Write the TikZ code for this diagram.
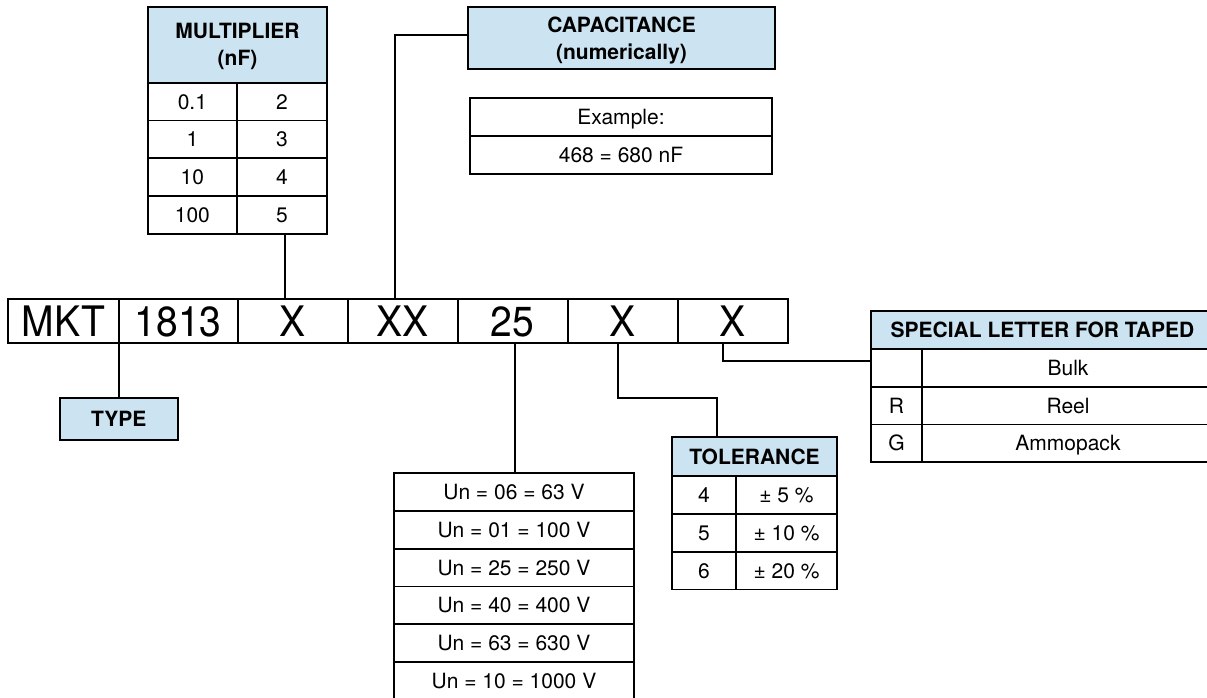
\documentclass[tikz,border=0pt]{standalone}
\usepackage{fontspec}
\setmainfont{TeX Gyre Heros}
\newfontfamily\codefont[FakeStretch=0.93]{TeX Gyre Heros}
\usetikzlibrary{positioning}
\definecolor{headblue}{RGB}{204,228,241}

\tikzset{
  cell/.style={draw, line width=1.8pt, outer sep=0pt, inner sep=0pt,
    minimum height=37.8pt, font=\fontsize{21}{26}\selectfont,
    text height=15pt, text depth=0pt},
  head/.style={cell, fill=headblue, font=\bfseries\fontsize{21}{26}\selectfont},
  headtwo/.style={draw, line width=1.8pt, outer sep=0pt, inner sep=0pt,
    fill=headblue, align=center, text depth=0pt,
    font=\bfseries\fontsize{21}{27}\selectfont},
  codebox/.style={cell, minimum height=44pt, minimum width=110pt,
    font=\codefont\fontsize{42}{48}\selectfont, text height=30pt},
  link/.style={line width=1.7pt}
}

\begin{document}
\begin{tikzpicture}[x=1pt,y=-1pt]
    \useasboundingbox (0,0) rectangle (1207,698);
    \clip (0,0) rectangle (1207,698);

    % part number
    \node[codebox, minimum width=110.4pt] (mkt) at (63.5,321) {MKT};
    \node[codebox, minimum width=119pt, right=0pt of mkt] (ser) {1813};
    \node[codebox, right=0pt of ser]  (mul){X};
    \node[codebox, right=0pt of mul]  (cap){XX};
    \node[codebox, right=0pt of cap]  (volt){25};
    \node[codebox, right=0pt of volt] (tol){X};
    \node[codebox, right=0pt of tol]  (pack){X};

    % multiplier
    \node[headtwo, minimum width=179pt, minimum height=76pt] (mulhead) at (237.5,44.7) {MULTIPLIER\\(nF)};
    \node[cell, minimum width=88.7pt, anchor=north west] (mulA1) at (mulhead.south west) {0.1};
    \node[cell, minimum width=90.3pt, right=0pt of mulA1] (mulB1){2};
    \node[cell, minimum width=88.7pt, below=0pt of mulA1] (mulA2){1};
    \node[cell, minimum width=90.3pt, right=0pt of mulA2] (mulB2){3};
    \node[cell, minimum width=88.7pt, below=0pt of mulA2] (mulA3){10};
    \node[cell, minimum width=90.3pt, right=0pt of mulA3] (mulB3){4};
    \node[cell, minimum width=88.7pt, below=0pt of mulA3] (mulA4){100};
    \node[cell, minimum width=90.3pt, right=0pt of mulA4] (mulB4){5};

    % capacitance
    \node[headtwo, minimum width=307pt, minimum height=62pt] (caphead) at (621.5,38) {CAPACITANCE\\(numerically)};
    \node[cell, minimum width=302pt] (ex1) at (621,117) {Example:};
    \node[cell, minimum width=302pt, below=0pt of ex1] (ex2){468 = 680 nF};

    % type
    \node[head, minimum width=118pt, minimum height=42pt, below=55pt of mkt.south east] (type){TYPE};

    % rated voltage
    \node[cell, minimum width=240pt, anchor=north] (un1) at (514,473) {Un = 06 = 63 V};
    \node[cell, minimum width=240pt, below=0pt of un1] (un2){Un = 01 = 100 V};
    \node[cell, minimum width=240pt, below=0pt of un2] (un3){Un = 25 = 250 V};
    \node[cell, minimum width=240pt, below=0pt of un3] (un4){Un = 40 = 400 V};
    \node[cell, minimum width=240pt, below=0pt of un4] (un5){Un = 63 = 630 V};
    \node[cell, minimum width=240pt, below=0pt of un5] (un6){Un = 10 = 1000 V};

    % tolerance
    \node[head, minimum width=165pt, minimum height=39pt, anchor=north] (tolhead) at (754.5,437) {TOLERANCE};
    \node[cell, minimum width=64pt, anchor=north west] (tolA1) at (tolhead.south west) {4};
    \node[cell, minimum width=101pt, right=0pt of tolA1] (tolB1){± 5 \%};
    \node[cell, minimum width=64pt, below=0pt of tolA1]  (tolA2){5};
    \node[cell, minimum width=101pt, right=0pt of tolA2] (tolB2){± 10 \%};
    \node[cell, minimum width=64pt, below=0pt of tolA2]  (tolA3){6};
    \node[cell, minimum width=101pt, right=0pt of tolA3] (tolB3){± 20 \%};

    % packaging
    \node[head, minimum width=343pt, anchor=north west] (sphead) at (871,311) {SPECIAL LETTER FOR TAPED};
    \node[cell, minimum width=51pt, anchor=north west] (spA1) at (sphead.south west) {};
    \node[cell, minimum width=292pt, right=0pt of spA1] (spB1){Bulk};
    \node[cell, minimum width=51pt, below=0pt of spA1]  (spA2){R};
    \node[cell, minimum width=292pt, right=0pt of spA2] (spB2){Reel};
    \node[cell, minimum width=51pt, below=0pt of spA2]  (spA3){G};
    \node[cell, minimum width=292pt, right=0pt of spA3] (spB3){Ammopack};

    \coordinate (tolbend) at (717,398);

    \draw[link] ([xshift=-8pt]mul.north) -- ([xshift=-8pt]mul.north |- mulB4.south);
    \draw[link] ([xshift=-8pt]cap.north) |- ([yshift=3pt]caphead.west);
    \draw[link] (mkt.south east) -- (type.north);
    \draw[link] ([xshift=2pt]volt.south) -- ([xshift=2pt]volt.south |- un1.north);
    \draw[link] ([xshift=-5pt]tol.south) |- (tolbend) -- (tolbend |- tolhead.north);
    \draw[link] ([xshift=-10pt]pack.south) |- ([yshift=7pt]spA1.west);
\end{tikzpicture}
\end{document}
